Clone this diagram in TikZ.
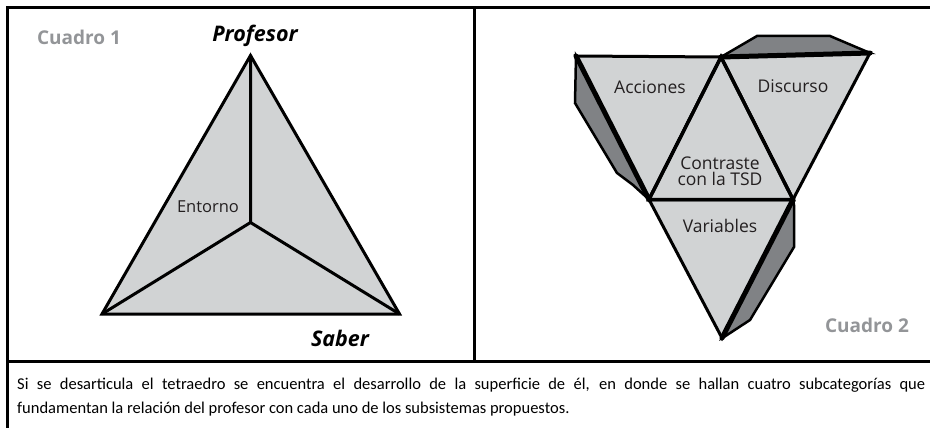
\documentclass[tikz,border=0pt]{standalone}
\usepackage{fontspec}
\setmainfont{Open Sans}
\newfontfamily\capfont{Carlito}
\definecolor{facegray}{HTML}{D1D3D4}
\definecolor{flapgray}{HTML}{808285}
\definecolor{labgray}{HTML}{939598}
\definecolor{inkblack}{HTML}{231F20}
\tikzset{
  frameline/.style={line width=3pt, draw=black},
  face/.style={fill=facegray, draw=black, line width=3pt, line join=miter},
  flap/.style={fill=flapgray, draw=black, line width=2.5pt, line join=miter},
  inner/.style={draw=black, line width=3pt},
  shared/.style={draw=black, line width=5pt, line cap=round},
  boxlabel/.style={font=\bfseries\fontsize{19}{22}\selectfont, text=labgray, inner sep=0pt},
  vertexlabel/.style={font=\bfseries\itshape\fontsize{21.5}{24}\selectfont, text=black, inner sep=0pt},
  facelabel/.style={font=\fontsize{17.5}{19}\selectfont, text=inkblack, inner sep=0pt, align=center}
}
\begin{document}
\begin{tikzpicture}[x=1pt,y=-1pt]
\useasboundingbox (0,0) rectangle (930,428);
% frame
\coordinate (ftl) at (7,8);
\coordinate (ftr) at (930,8);
\coordinate (fbl) at (7,428);
\coordinate (mtop) at (474,8);
\coordinate (mbot) at (474,361.5);
\coordinate (hl) at (7,361.5);
\coordinate (hr) at (930,361.5);
\draw[frameline] (fbl) -- (ftl) -- (ftr);
\draw[frameline] (mtop) -- (mbot);
\draw[frameline] (hl) -- (hr);

% left tetrahedron
\coordinate (P) at (250.5,55.5);
\coordinate (L) at (102,314);
\coordinate (R) at (399.5,314);
\coordinate (C) at (250.5,222.5);
\filldraw[face] (P) -- (L) -- (R) -- cycle;
\draw[inner] (P) -- (C) (L) -- (C) (R) -- (C);

\node[boxlabel] (cuadro1) at (79,37) {Cuadro 1};
\node[vertexlabel] (profesor) at (255,36) {Profesor};
\node[vertexlabel] (saber) at (340,338) {Saber};
\node[facelabel, font=\fontsize{16.5}{18}\selectfont] (entorno) at (208,207) {Entorno};

% right: development of the tetrahedron
\coordinate (A1) at (576,56);
\coordinate (T) at (721,57);
\coordinate (D1) at (870,53);
\coordinate (BL) at (649,199.5);
\coordinate (BR) at (793,199.5);
\coordinate (V) at (722,338);
% flaps
\coordinate (la) at (575,103);
\coordinate (lb) at (617,173);
\coordinate (lc) at (633,185);
\coordinate (ta) at (757,36);
\coordinate (tb) at (830,36);
\coordinate (ra) at (794,205);
\coordinate (rb) at (794,247);
\coordinate (rc) at (750,320);
\coordinate (rd) at (724,337);
\filldraw[flap] (A1) -- (la) -- (lb) -- (lc) -- (BL) -- cycle;
\filldraw[flap] (T) -- (ta) -- (tb) -- (D1) -- cycle;
\filldraw[flap] (BR) -- (ra) -- (rb) -- (rc) -- (rd) -- (V) -- cycle;
% faces
\filldraw[face] (A1) -- (T) -- (BL) -- cycle;
\filldraw[face] (T) -- (D1) -- (BR) -- cycle;
\filldraw[face] (BL) -- (BR) -- (V) -- cycle;
\filldraw[face] (T) -- (BL) -- (BR) -- cycle;
% shared edges with flaps
\draw[shared] (A1) -- (BL);
\draw[shared] (T) -- (D1);
\draw[shared] (BR) -- (V);
\draw[draw=black, line width=3.5pt] (T) -- (BL) -- (BR) -- cycle;

\node[facelabel] (acciones) at (650,87) {Acciones};
\node[facelabel] (discurso) at (793,86) {Discurso};
\node[facelabel] (contraste) at (720,171) {Contraste\\[-3pt]con la TSD};
\node[facelabel] (variables) at (720,226) {Variables};
\node[boxlabel] (cuadro2) at (867,325) {Cuadro 2};

% caption
\node[anchor=base west, inner sep=0pt] (caption) at (17,389)
  {\parbox[t]{908pt}{\capfont\fontsize{16.5}{24}\selectfont
  Si se desarticula el tetraedro se encuentra el desarrollo de la superficie de él, en donde se hallan cuatro subcategorías que\linebreak
  fundamentan la relación del profesor con cada uno de los subsistemas propuestos.}};
\end{tikzpicture}
\end{document}
